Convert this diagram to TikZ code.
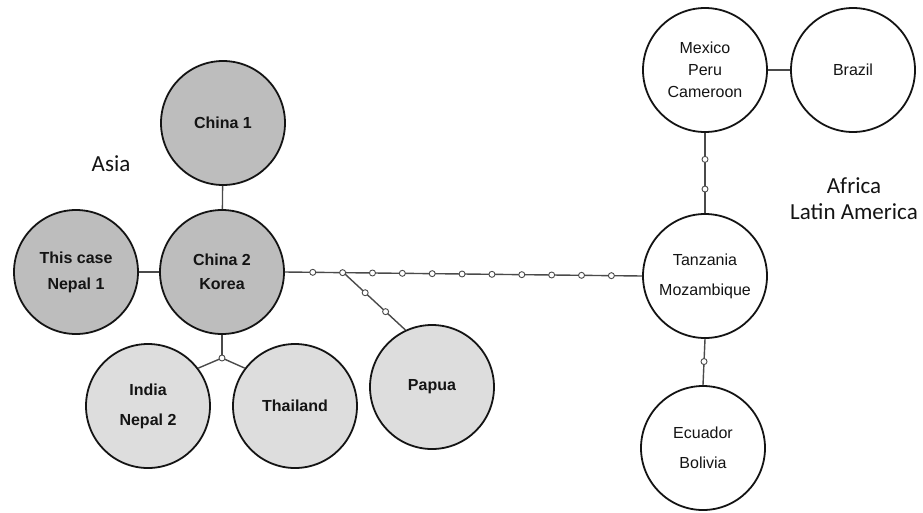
\documentclass[tikz,border=0pt]{standalone}
\usepackage{fontspec}
\setmainfont{Liberation Sans}
\newfontfamily\labelfont{Carlito}
\usetikzlibrary{calc}
\definecolor{darkfill}{HTML}{BDBDBD}
\definecolor{lightfill}{HTML}{DDDDDD}
\definecolor{inkc}{HTML}{141414}
\definecolor{linkc}{HTML}{4A4A4A}
\tikzset{
  bubble/.style={circle, draw=inkc, line width=1.8pt, minimum size=124pt, inner sep=0pt,
    align=center, text=inkc, font=\fontsize{16}{30}\selectfont},
  darkb/.style={bubble, fill=darkfill, font=\bfseries\fontsize{16}{26}\selectfont},
  lightb/.style={bubble, fill=lightfill, font=\bfseries\fontsize{16}{30}\selectfont},
  whiteb/.style={bubble, fill=white},
  link/.style={draw=linkc, line width=1.4pt},
  dotn/.style={circle, draw=linkc, fill=white, line width=0.9pt, minimum size=6pt, inner sep=0pt},
  region/.style={font=\labelfont\fontsize{23}{26}\selectfont, text=inkc, align=center}
}
\begin{document}
\begin{tikzpicture}[x=1pt,y=-1pt]
\useasboundingbox (0,0) rectangle (923,512);
% nodes
\node[darkb] (china1) at (223,123) {China 1};
\node[darkb, font=\bfseries\fontsize{16}{24}\selectfont] (china2) at (222,272) {China 2\\Korea};
\node[darkb] (thiscase) at (76,272) {This case\\Nepal 1};
\node[lightb] (india) at (148,406) {India\\Nepal 2};
\node[lightb] (thailand) at (295,406) {Thailand};
\node[lightb] (papua) at (432,387) {Papua};
\node[whiteb] (tanz) at (705,276) {Tanzania\\Mozambique};
\node[whiteb, font=\fontsize{16}{22}\selectfont] (mexico) at (705,70) {Mexico\\Peru\\Cameroon};
\node[whiteb] (brazil) at (853,70) {Brazil};
\node[whiteb] (ecuador) at (703,448) {Ecuador\\Bolivia};
\node[region] (asia) at (111,164) {Asia};
\node[region] (africa) at (854,199) {Africa\\Latin America};
% connectors
\coordinate (junc) at (222,358);
\draw[link] (china1) -- (china2);
\draw[link] (thiscase) -- (china2);
\draw[link] (china2.south) -- (junc);
\draw[link] (junc) -- (india.37);
\draw[link] (junc) -- (thailand.143);
\draw[link] (china2.east) -- (tanz.west);
\coordinate (branch) at ($(china2.east)!0.164!(tanz.west)$);
\draw[link] (branch) -- (papua.115);
\draw[link] (mexico) -- (brazil);
\draw[link] (mexico.south) -- (tanz.north);
\draw[link] (tanz.south) -- (ecuador.north);
% small rings
\node[dotn] at (junc) {};
\foreach \p in {0.078,0.1616,0.2452,0.3288,0.4124,0.496,0.5796,0.6632,0.7468,0.8304,0.914}
  \node[dotn] at ($(china2.east)!\p!(tanz.west)$) {};
\foreach \p in {0.35,0.68}
  \node[dotn] at ($(branch)!\p!(papua.115)$) {};
\foreach \p in {0.33,0.7}
  \node[dotn] at ($(mexico.south)!\p!(tanz.north)$) {};
\node[dotn] at ($(tanz.south)!0.49!(ecuador.north)$) {};
\end{tikzpicture}
\end{document}
